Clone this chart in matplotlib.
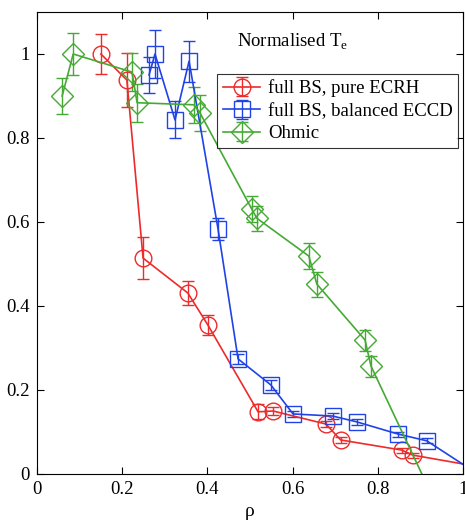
import numpy as np
import matplotlib
matplotlib.use('Agg')
import matplotlib.pyplot as plt

plt.rcParams['font.family'] = ['Liberation Serif', 'DejaVu Serif']

# full BS, pure ECRH
ecrh_x = [0.150, 0.211, 0.249, 0.354, 0.401, 0.519, 0.554, 0.678, 0.713, 0.856, 0.882, 1.05]
ecrh_y = [1.000, 0.938, 0.514, 0.431, 0.355, 0.148, 0.150, 0.119, 0.081, 0.057, 0.045, 0.015]
ecrh_e = [0.048, 0.064, 0.050, 0.028, 0.024, 0.018, 0.010, 0.008, 0.006, 0.006, 0.006, 0.0]

# full BS, balanced ECCD
eccd_x = [0.263, 0.277, 0.324, 0.357, 0.425, 0.472, 0.549, 0.601, 0.694, 0.751, 0.848, 0.915, 1.05]
eccd_y = [0.950, 1.000, 0.843, 0.983, 0.583, 0.274, 0.212, 0.143, 0.138, 0.124, 0.095, 0.079, -0.01]
eccd_e = [0.044, 0.057, 0.044, 0.049, 0.026, 0.012, 0.012, 0.008, 0.008, 0.008, 0.006, 0.006, 0.0]

# Ohmic
ohm_x = [0.059, 0.085, 0.223, 0.235, 0.369, 0.383, 0.504, 0.516, 0.638, 0.657, 0.770, 0.784, 0.95]
ohm_y = [0.900, 1.000, 0.957, 0.884, 0.879, 0.859, 0.631, 0.609, 0.519, 0.452, 0.319, 0.257, -0.10]
ohm_e = [0.044, 0.051, 0.045, 0.045, 0.043, 0.043, 0.032, 0.030, 0.030, 0.030, 0.025, 0.025, 0.0]

fig = plt.figure(figsize=(4.65, 5.22), dpi=100)
ax = fig.add_axes([37/465, 48/522, 426/465, 462/522])

style = dict(fillstyle='none', markeredgewidth=1.0, lw=1.2, elinewidth=1.0, capsize=4.5, capthick=1.0)
ax.errorbar(ecrh_x, ecrh_y, yerr=ecrh_e, color='#ee2a2a', marker='o', ms=12, label='full BS, pure ECRH', **style)
ax.errorbar(eccd_x, eccd_y, yerr=eccd_e, color='#1f43e6', marker='s', ms=11, label='full BS, balanced ECCD', **style)
ax.errorbar(ohm_x, ohm_y, yerr=ohm_e, color='#44aa33', marker='D', ms=11, label='Ohmic', **style)

ax.set_xlim(0, 1)
ax.set_ylim(0, 1.1)
ax.set_xticks([0, 0.2, 0.4, 0.6, 0.8, 1])
ax.set_xticklabels(['0', '0.2', '0.4', '0.6', '0.8', '1'])
ax.set_yticks([0, 0.2, 0.4, 0.6, 0.8, 1])
ax.set_yticklabels(['0', '0.2', '0.4', '0.6', '0.8', '1'])
ax.tick_params(direction='in', top=True, right=True, labelsize=13.5, length=5, pad=5)
ax.set_xlabel('ρ', fontsize=14, labelpad=4)

ax.text(0.47, 0.935, 'Normalised T$_\\mathregular{e}$', transform=ax.transAxes, fontsize=13.5, va='center')

leg = ax.legend(loc='upper left', bbox_to_anchor=(0.423, 0.866), fontsize=13.5, frameon=True,
                fancybox=False, borderpad=0.3, handlelength=2.0, labelspacing=0.28, handletextpad=0.4,
                borderaxespad=0)
leg.get_frame().set_edgecolor('black')
leg.get_frame().set_linewidth(0.8)

fig.savefig('out.png', dpi=100)
